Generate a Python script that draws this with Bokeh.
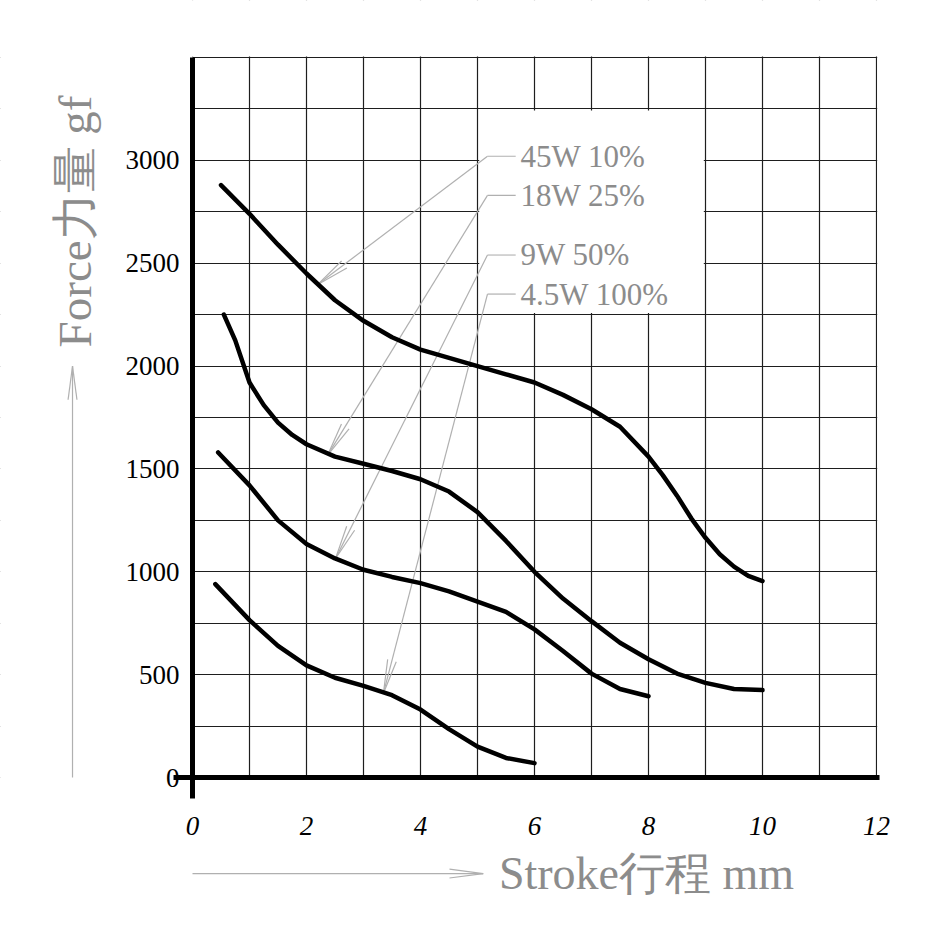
import math
from bokeh.plotting import figure
from bokeh.models import (Range1d, FixedTicker, BoxAnnotation, Arrow, Label, ColumnDataSource)
from bokeh.core.properties import value
from bokeh.embed import file_html
from bokeh.resources import INLINE

# ---------------- data ----------------
x_45w = [0.5, 1, 1.5, 2, 2.5, 3, 3.5, 4, 4.5, 5, 5.5, 6, 6.5, 7, 7.5, 8, 8.25, 8.5, 8.75,
         9, 9.25, 9.5, 9.75, 10]
y_45w = [2880, 2740, 2590, 2450, 2320, 2220, 2140, 2080, 2040, 2000, 1960, 1920, 1860, 1790,
         1705, 1560, 1470, 1370, 1260, 1165, 1085, 1025, 980, 955]

x_18w = [0.55, 0.75, 1, 1.25, 1.5, 1.75, 2, 2.5, 3, 3.5, 4, 4.5, 5, 5.5, 6, 6.5, 7, 7.5, 8,
         8.5, 9, 9.5, 10]
y_18w = [2250, 2125, 1920, 1810, 1725, 1665, 1620, 1560, 1525, 1490, 1450, 1390, 1290, 1150,
         1000, 870, 760, 655, 575, 505, 460, 430, 425]

x_9w = [0.45, 1, 1.5, 2, 2.5, 3, 3.5, 4, 4.5, 5, 5.5, 6, 6.5, 7, 7.5, 8]
y_9w = [1580, 1420, 1250, 1135, 1065, 1010, 975, 945, 905, 855, 805, 720, 615, 505, 430, 395]

x_45 = [0.4, 1, 1.5, 2, 2.5, 3, 3.5, 4, 4.5, 5, 5.5, 6]
y_45 = [940, 765, 640, 545, 485, 445, 400, 330, 235, 150, 95, 70]

series_x = [x_45w, x_18w, x_9w, x_45]
series_y = [y_45w, y_18w, y_9w, y_45]
series_labels = ["45W 10%", "18W 25%", "9W 50%", "4.5W 100%"]

# callouts: label anchor and arrow tip on each curve
label_x = 5.754
label_y = [3020, 2830, 2540, 2350]
tip_x = [2.19, 2.37, 2.51, 3.35]
tip_y = [2395, 1567, 1065, 410]

x_ticks = [0, 2, 4, 6, 8, 10, 12]
y_ticks = [0, 500, 1000, 1500, 2000, 2500, 3000]
x_grid = list(range(0, 13))
y_grid = list(range(0, 3501, 250))
x_max, y_max = 12, 3500

x_title = "Stroke行程 mm"
y_title = "Force力量 gf"

# ---------------- layout (the plot area fills the whole 934 x 934 canvas) ----------------
SIZE = 934
KX = 57.0              # px per mm
KY = 720.0 / 3500.0    # px per gf
X_START = -192.0 / KX
X_END = X_START + SIZE / KX
Y_END = 777.0 / KY
Y_START = Y_END - SIZE / KY

GRAY_TXT = "#8c8c8c"
GRAY_LINE = "#b0b0b0"
SERIF = "Liberation Serif"

p = figure(frame_width=SIZE, frame_height=SIZE,
           x_range=Range1d(X_START, X_END), y_range=Range1d(Y_START, Y_END),
           output_backend="svg", toolbar_location=None,
           min_border_left=0, min_border_right=0, min_border_top=0, min_border_bottom=0)
p.outline_line_color = None
p.background_fill_color = "white"
p.border_fill_color = "white"

# grids
p.xgrid.ticker = FixedTicker(ticks=x_grid)
p.ygrid.ticker = FixedTicker(ticks=y_grid)
for g in (p.xgrid, p.ygrid):
    g.grid_line_color = "#1e1e1e"
    g.grid_line_width = 1.2

# axes: labels only, pulled into the canvas with negative standoffs
p.xaxis.ticker = FixedTicker(ticks=x_ticks)
p.yaxis.ticker = FixedTicker(ticks=y_ticks)
for ax in (p.xaxis, p.yaxis):
    ax.axis_line_color = None
    ax.major_tick_line_color = None
    ax.minor_tick_line_color = None
    ax.major_tick_out = 0
    ax.major_tick_in = 0
    ax.minor_tick_out = 0
    ax.major_label_text_font = SERIF
    ax.major_label_text_font_size = "27px"
    ax.major_label_text_color = "black"
p.xaxis.major_label_text_font_style = "italic"
p.xaxis.major_label_standoff = -118
p.yaxis.major_label_standoff = -179

# masks that keep the grid only inside the 0..12 x 0..3500 area and clear the label box
far_l, far_r = X_START - 5, X_END + 5
far_b, far_t = Y_START - 500, Y_END + 500
for kw in (dict(left=far_l, right=0, bottom=far_b, top=far_t),
           dict(left=far_l, right=far_r, bottom=far_b, top=0),
           dict(left=x_max + 0.012, right=far_r, bottom=far_b, top=far_t),
           dict(left=far_l, right=far_r, bottom=y_max + 5, top=far_t),
           dict(left=5.03, right=8.97, bottom=2258, top=3242)):
    p.add_layout(BoxAnnotation(fill_color="white", fill_alpha=1, line_alpha=0,
                               level="underlay", **kw))


# arrow segments (shafts + narrow open heads)
def head(tx, ty, sx, sy, length=34.0, half=math.radians(7.5)):
    dx, dy = (sx - tx) * KX, (sy - ty) * KY
    n = math.hypot(dx, dy)
    ux, uy = dx / n, dy / n
    pts = []
    for a in (half, -half):
        rx = ux * math.cos(a) - uy * math.sin(a)
        ry = ux * math.sin(a) + uy * math.cos(a)
        pts.append((tx + rx * length / KX, ty + ry * length / KY))
    return pts


seg = dict(x0=[], y0=[], x1=[], y1=[])


def add_seg(a, b):
    seg["x0"].append(a[0]); seg["y0"].append(a[1])
    seg["x1"].append(b[0]); seg["y1"].append(b[1])


line_end_x, corner_x = 5.67, 5.175
for ly, tx, ty in zip(label_y, tip_x, tip_y):
    add_seg((line_end_x, ly), (corner_x, ly))
    add_seg((corner_x, ly), (tx, ty))
    for b in head(tx, ty, corner_x, ly):
        add_seg(b, (tx, ty))

# direction arrows beside the axis titles
v_arrow_x, v_arrow_y0, v_arrow_y1 = -2.105, 0, 2000
h_arrow_y, h_arrow_x0, h_arrow_x1 = -467, 0, 5.1
add_seg((v_arrow_x, v_arrow_y0), (v_arrow_x, v_arrow_y1))
for b in head(v_arrow_x, v_arrow_y1, v_arrow_x, v_arrow_y0):
    add_seg(b, (v_arrow_x, v_arrow_y1))
add_seg((h_arrow_x0, h_arrow_y), (h_arrow_x1, h_arrow_y))
for b in head(h_arrow_x1, h_arrow_y, h_arrow_x0, h_arrow_y):
    add_seg(b, (h_arrow_x1, h_arrow_y))

p.add_layout(Arrow(end=None, source=ColumnDataSource(seg), x_start="x0", y_start="y0",
                   x_end="x1", y_end="y1", line_color=GRAY_LINE, line_width=1.2,
                   level="underlay"))

# curves
for xs, ys in zip(series_x, series_y):
    p.line(xs, ys, line_color="black", line_width=4.5, line_join="round", line_cap="round")

# callout labels
p.text(x=[label_x] * len(label_y), y=label_y, text=series_labels,
       text_font=value(SERIF), text_font_size="31px", text_color=GRAY_TXT,
       text_align="left", text_baseline="middle")

# heavy axis lines crossing (and slightly overshooting) the origin
axis_x_extent = (-0.333, 12.053)
axis_y_extent = (-102, y_max)
p.add_layout(Arrow(end=None, x_start=0, y_start=axis_y_extent[0], x_end=0,
                   y_end=axis_y_extent[1], line_color="black", line_width=5))
p.add_layout(Arrow(end=None, x_start=axis_x_extent[0], y_start=0, x_end=axis_x_extent[1],
                   y_end=0, line_color="black", line_width=5))

# axis titles
p.add_layout(Label(x=-2.053, y=2703, text=y_title, angle=math.pi / 2, text_align="center",
                   text_baseline="middle", text_font=SERIF, text_font_size="47px",
                   text_color=GRAY_TXT))
p.add_layout(Label(x=7.965, y=-467, text=x_title, text_align="center",
                   text_baseline="middle", text_font=SERIF, text_font_size="46px",
                   text_color=GRAY_TXT))

open("out.html", "w").write(file_html(p, INLINE))
